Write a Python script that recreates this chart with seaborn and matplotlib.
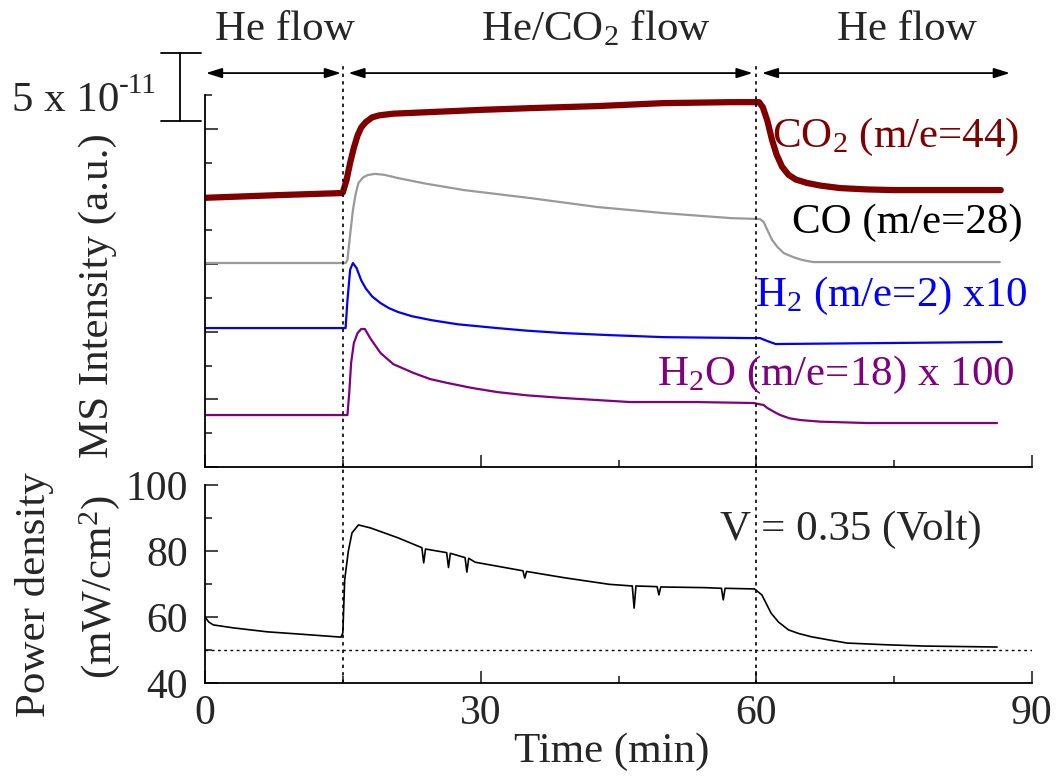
import matplotlib
matplotlib.use("Agg")
import matplotlib.pyplot as plt
import seaborn as sns

# MS signals (intensity in units of 1e-11, offset traces as plotted)
co2_t = [0, 8, 14.9, 15.0, 15.4, 15.8, 16.2, 16.6, 17.0, 17.5, 18.2, 19.0, 20.5, 30.0, 35.4, 42.7,
         49.9, 57.2, 60.3, 60.7, 61.2, 61.7, 62.2, 62.8, 63.5, 64.3, 65.5, 67.0, 69.1, 72.0, 75.0, 86.6]
co2_i = [19.9, 20.1, 20.25, 20.3, 21.2, 22.5, 23.6, 24.5, 25.1, 25.5, 25.85, 26.0, 26.12, 26.4, 26.53, 26.68,
         26.9, 26.97, 26.97, 26.6, 25.6, 24.2, 23.1, 22.2, 21.6, 21.25, 21.0, 20.8, 20.62, 20.52, 20.47, 20.47]

co_t = [0, 15.3, 15.5, 15.8, 16.1, 16.4, 16.7, 17.2, 17.7, 18.5, 19.5, 21.0, 24.0, 28.2, 35.4, 42.7,
        49.9, 57.2, 60.4, 60.8, 61.2, 61.7, 62.3, 63.0, 64.0, 65.0, 66.2, 86.5]
co_i = [15.08, 15.08, 15.3, 17.2, 19.0, 20.2, 21.0, 21.4, 21.58, 21.67, 21.6, 21.36, 20.95, 20.47, 19.88, 19.22,
        18.77, 18.4, 18.33, 18.1, 17.52, 16.8, 16.26, 15.8, 15.52, 15.3, 15.15, 15.15]

h2_t = [0, 15.3, 15.5, 15.8, 16.1, 16.5, 17.0, 17.5, 18.2, 19.1, 20.0, 21.0, 22.5, 24.6, 27.5, 31.8,
        35.0, 39.0, 44.0, 49.9, 59.3, 60.4, 61.2, 62.1, 86.7]
h2_i = [10.27, 10.27, 12.3, 14.6, 15.08, 14.7, 13.8, 13.2, 12.6, 12.12, 11.75, 11.46, 11.15, 10.86, 10.55, 10.27,
        10.08, 9.9, 9.75, 9.6, 9.53, 9.53, 9.31, 9.09, 9.24]

h2o_t = [0, 15.5, 15.7, 15.9, 16.2, 16.6, 17.0, 17.4, 18.0, 19.1, 20.5, 22.7, 24.5, 26.4, 29.0, 31.8,
         35.0, 39.0, 46.3, 53.6, 59.7, 60.8, 61.2, 62.0, 62.6, 63.6, 64.8, 67.0, 72.1, 86.2]
h2o_i = [3.84, 3.84, 5.5, 7.69, 9.16, 9.9, 10.2, 10.2, 9.5, 8.43, 7.6, 6.95, 6.5, 6.21, 5.85, 5.54,
         5.3, 5.1, 4.8, 4.8, 4.73, 4.58, 4.36, 4.05, 3.84, 3.6, 3.47, 3.35, 3.25, 3.25]

# power density (mW/cm2)
pw_t = [0.0, 0.4, 0.9, 3.1, 6.8, 10.4, 14.8, 15.0, 15.2, 15.6, 16.0, 16.7, 18.0, 19.5, 21.0, 23.6, 23.8, 24.0,
        26.3, 26.5, 26.7, 28.3, 28.5, 28.7, 29.4, 34.6, 34.8, 35.0, 39.1, 44.0, 46.5, 46.7, 46.9,
        49.2, 49.4, 49.6, 54.4, 56.2, 56.4, 56.6, 59.8, 60.6, 61.0, 61.6, 62.4, 63.5, 64.6, 66.0,
        68.0, 69.9, 74.0, 78.2, 86.2]
pw_p = [60.0, 58.5, 57.6, 56.7, 55.5, 54.8, 53.9, 55.2, 71.2, 80.0, 85.5, 87.9, 87.0, 85.5, 84.0, 81.0, 76.4, 80.6,
        79.5, 75.0, 79.3, 78.0, 73.6, 77.8, 76.6, 74.0, 71.8, 73.8, 71.9, 69.9, 69.4, 62.7, 69.4,
        69.2, 66.7, 69.1, 68.9, 68.7, 65.2, 68.7, 68.5, 66.7, 64.5, 61.2, 58.5, 56.1, 55.0, 54.0,
        53.0, 52.1, 51.6, 51.2, 50.9]

switch_times = [15, 60]
baseline_power = 50
scale_bar = 5  # x 1e-11

sns.set_style("ticks")
plt.rcParams['font.family'] = ['Liberation Serif', 'DejaVu Serif']
plt.rcParams['mathtext.fontset'] = 'custom'
plt.rcParams['mathtext.rm'] = 'Liberation Serif'
plt.rcParams['mathtext.it'] = 'Liberation Serif:italic'

W, H = 1062, 779
fig = plt.figure(figsize=(W / 100, H / 100), dpi=100)
ax1 = fig.add_axes([205 / W, (H - 467) / H, 827 / W, 372 / H])
ax2 = fig.add_axes([205 / W, (H - 683) / H, 827 / W, 198 / H])

sns.lineplot(x=co2_t, y=co2_i, ax=ax1, color='#800000', lw=4.5, estimator=None)
sns.lineplot(x=co_t, y=co_i, ax=ax1, color='#999999', lw=1.6, estimator=None)
sns.lineplot(x=h2_t, y=h2_i, ax=ax1, color='#0000ff', lw=1.6, estimator=None)
sns.lineplot(x=h2o_t, y=h2o_i, ax=ax1, color='#800080', lw=1.6, estimator=None)
sns.lineplot(x=pw_t, y=pw_p, ax=ax2, color='black', lw=1.2, estimator=None)

for ax in (ax1, ax2):
    sns.despine(ax=ax)
    ax.set_xlim(0, 90)
    ax.set_xticks([0, 30, 60, 90])
    ax.set_xticks([15, 45, 75], minor=True)
    ax.tick_params(which='major', direction='in', length=9, width=1.2, labelsize=30, pad=8)
    ax.tick_params(which='minor', direction='in', length=5, width=1.2)
    ax.tick_params(axis='y', pad=12)
    for s in ax.spines.values():
        s.set_linewidth(1.3)
        s.set_color('black')
    ax.set_xlabel('')
    ax.set_ylabel('')

ax1.set_ylim(0, 27.5)
ax1.set_yticks([0, 5, 10, 15, 20, 25])
ax1.set_yticks([2.5, 7.5, 12.5, 17.5, 22.5, 27.5], minor=True)
ax1.tick_params(labelbottom=False, labelleft=False)

ax2.set_ylim(40, 100)
ax2.set_yticks([40, 60, 80, 100])
ax2.set_yticks([50, 70, 90], minor=True)

# dotted switch lines and power baseline
for t in switch_times:
    ax1.axvline(t, ymin=0, ymax=(467 - 62) / 372, color='black', lw=1.2,
                ls=(0, (2, 2.5)), clip_on=False)
    ax2.axvline(t, ymin=0, ymax=1 + 18 / 198, color='black', lw=1.2,
                ls=(0, (2, 2.5)), clip_on=False)
ax2.axhline(baseline_power, color='black', lw=1.0, ls=(0, (2, 2.5)))

# flow arrows and labels
arrow_y = 29.12
spans = [(0.1, 14.8), (15.6, 59.6), (60.6, 87.6)]
for a, b in spans:
    ax1.annotate('', xy=(b, arrow_y), xytext=(a, arrow_y), annotation_clip=False,
                 arrowprops=dict(arrowstyle='<|-|>,head_length=0.8,head_width=0.25',
                                 color='black', lw=1.3, shrinkA=0, shrinkB=0,
                                 mutation_scale=12))
lab_y = 31.56
ax1.text(8.7, lab_y, 'He flow', ha='center', va='baseline', fontsize=31)
ax1.text(42.5, lab_y, 'He/CO$_2$ flow', ha='center', va='baseline', fontsize=31)
ax1.text(76.4, lab_y, 'He flow', ha='center', va='baseline', fontsize=31)

# trace labels
ax1.text(61.7, 23.65, 'CO$_2$ (m/e=44)', color='#800000', ha='left', va='baseline', fontsize=31)
ax1.text(63.9, 17.3, 'CO (m/e=28)', color='black', ha='left', va='baseline', fontsize=31)
ax1.text(59.9, 11.9, 'H$_2$ (m/e=2) x10', color='#0000ff', ha='left', va='baseline', fontsize=31)
ax1.text(49.2, 6.06, 'H$_2$O (m/e=18) x 100', color='#800080', ha='left', va='baseline', fontsize=31)

# scale bar
bar_x, bar_lo = -2.72, 25.57
ax1.plot([bar_x, bar_x], [bar_lo, bar_lo + scale_bar], color='black', lw=1.3, clip_on=False)
for yy in (bar_lo, bar_lo + scale_bar):
    ax1.plot([-4.78, -0.43], [yy, yy], color='black', lw=1.3, clip_on=False)
fig.text(119 / W, 1 - 111 / H, '5 x 10', ha='right', va='baseline', fontsize=31)
fig.text(119 / W, 1 - 93 / H, '-11', ha='left', va='baseline', fontsize=21)

ax2.text(56.0, 83.3, 'V = 0.35 (Volt)', ha='left', va='baseline', fontsize=31)

# axis labels
fig.text(98 / W, 1 - 296 / H, 'MS Intensity (a.u.)', rotation=90, ha='center', va='center', fontsize=31)
fig.text(35 / W, 1 - 595 / H, 'Power density', rotation=90, ha='center', va='center', fontsize=31)
fig.text(100 / W, 1 - 587 / H, '(mW/cm$^2$)', rotation=90, ha='center', va='center', fontsize=31)
fig.text(612 / W, 1 - 752 / H, 'Time (min)', ha='center', va='center', fontsize=31)

plt.savefig("out.png", dpi=100)
